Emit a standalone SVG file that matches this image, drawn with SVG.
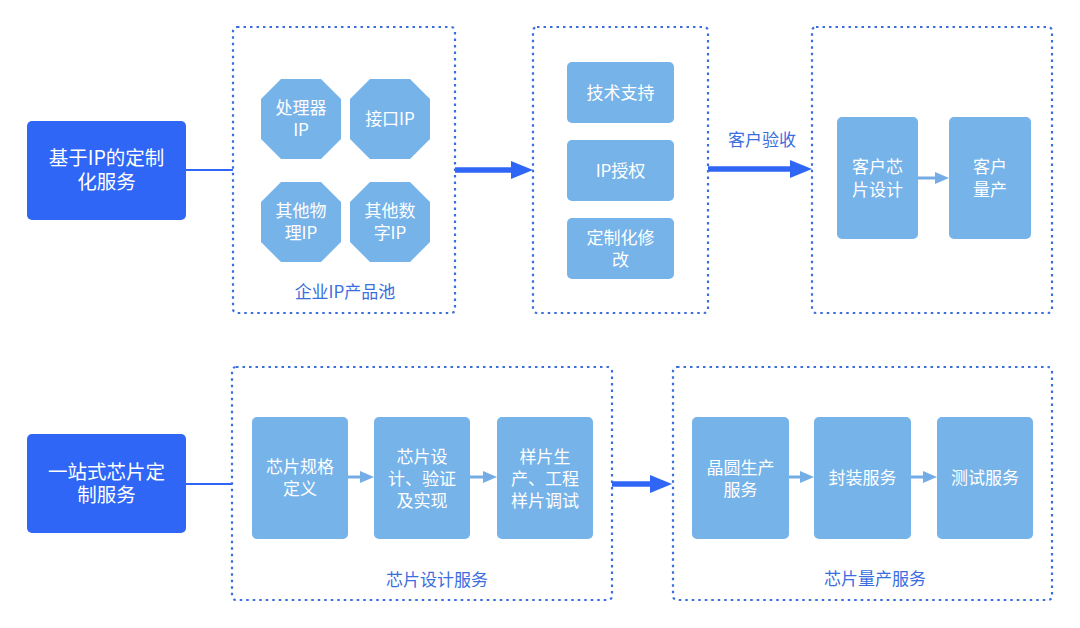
<svg xmlns="http://www.w3.org/2000/svg" width="1080" height="628" viewBox="0 0 1080 628">
<defs>
<style>
text{font-family:"Noto Sans CJK SC","Noto Sans",sans-serif;text-anchor:middle}
.main{fill:#2f66f6}
.mt{fill:#ffffff;font-size:19.5px}
.lb{fill:#76b3e9}
.bt{fill:#ffffff;font-size:17px}
.grp{fill:none;stroke:#3a6ede;stroke-width:2.2;stroke-dasharray:2.5 4;stroke-linecap:butt}
.gl{fill:#3a6ede;font-size:17px}
.thin{stroke:#2f66f6;stroke-width:2;fill:none}
.thick{stroke:#2f66f6;stroke-width:5.5;fill:none}
.small{stroke:#74ade6;stroke-width:3;fill:none}
</style>
<marker id="ah" markerUnits="userSpaceOnUse" markerWidth="22" markerHeight="18" refX="9" refY="9" orient="auto">
<path d="M0,0 L22,9 L0,18 z" fill="#2f66f6"/>
</marker>
<marker id="as" markerUnits="userSpaceOnUse" markerWidth="14" markerHeight="12" refX="2" refY="6" orient="auto">
<path d="M0,0 L14,6 L0,12 z" fill="#74ade6"/>
</marker>
</defs>
<rect width="1080" height="628" fill="#ffffff"/>

<g id="connectors">
<path class="thin" d="M186,170 H233"/>
<path class="thin" d="M186,484 H232"/>
<path class="thick" d="M455,170 H520" marker-end="url(#ah)"/>
<path class="thick" d="M708,169 H799" marker-end="url(#ah)"/>
<path class="thick" d="M612,484 H659" marker-end="url(#ah)"/>
<path class="small" d="M918,178 H937" marker-end="url(#as)"/>
<path class="small" d="M348,477 H362" marker-end="url(#as)"/>
<path class="small" d="M470,477 H485" marker-end="url(#as)"/>
<path class="small" d="M789,477 H802" marker-end="url(#as)"/>
<path class="small" d="M911,477 H925" marker-end="url(#as)"/>
</g>

<g id="group-ip-pool">
<rect class="grp" x="233" y="27" width="222" height="286" rx="4"/>
<text class="gl" x="345" y="298">企业IP产品池</text>
</g>
<g id="group-services">
<rect class="grp" x="533" y="27" width="175" height="286" rx="4"/>
</g>
<g id="group-customer">
<rect class="grp" x="812" y="27" width="240" height="286" rx="4"/>
</g>
<g id="group-design">
<rect class="grp" x="232" y="367" width="380" height="233" rx="4"/>
<text class="gl" x="437" y="586">芯片设计服务</text>
</g>
<g id="group-mass">
<rect class="grp" x="673" y="367" width="379" height="233" rx="4"/>
<text class="gl" x="875" y="585">芯片量产服务</text>
</g>

<g id="node-ip-custom">
<rect class="main" x="27" y="121" width="159" height="99" rx="5"/>
<text class="mt" x="106.5" y="165">基于IP的定制</text>
<text class="mt" x="106.5" y="189">化服务</text>
</g>
<g id="node-onestop">
<rect class="main" x="27" y="434" width="159" height="99" rx="5"/>
<text class="mt" x="106.5" y="479">一站式芯片定</text>
<text class="mt" x="106.5" y="502">制服务</text>
</g>

<g id="node-processor-ip">
<polygon class="lb" points="281,79 321,79 341,99 341,139 321,159 281,159 261,139 261,99"/>
<text class="bt" x="301" y="114">处理器</text>
<text class="bt" x="301" y="136">IP</text>
</g>
<g id="node-interface-ip">
<polygon class="lb" points="370,79 410,79 430,99 430,139 410,159 370,159 350,139 350,99"/>
<text class="bt" x="390" y="125">接口IP</text>
</g>
<g id="node-physical-ip">
<polygon class="lb" points="281,182 321,182 341,202 341,242 321,262 281,262 261,242 261,202"/>
<text class="bt" x="301" y="217">其他物</text>
<text class="bt" x="301" y="239">理IP</text>
</g>
<g id="node-digital-ip">
<polygon class="lb" points="370,182 410,182 430,202 430,242 410,262 370,262 350,242 350,202"/>
<text class="bt" x="390" y="217">其他数</text>
<text class="bt" x="390" y="239">字IP</text>
</g>

<g id="node-tech-support">
<rect class="lb" x="567" y="62" width="107" height="61" rx="5"/>
<text class="bt" x="620.5" y="98.5">技术支持</text>
</g>
<g id="node-ip-license">
<rect class="lb" x="567" y="140" width="107" height="61" rx="5"/>
<text class="bt" x="620.5" y="176.5">IP授权</text>
</g>
<g id="node-custom-mod">
<rect class="lb" x="567" y="218" width="107" height="61" rx="5"/>
<text class="bt" x="620.5" y="244">定制化修</text>
<text class="bt" x="620.5" y="266">改</text>
</g>

<g id="label-acceptance">
<text class="gl" x="762" y="146">客户验收</text>
</g>

<g id="node-customer-design">
<rect class="lb" x="837" y="117" width="81" height="122" rx="5"/>
<text class="bt" x="877.5" y="173">客户芯</text>
<text class="bt" x="877.5" y="196">片设计</text>
</g>
<g id="node-customer-mass">
<rect class="lb" x="949" y="117" width="82" height="122" rx="5"/>
<text class="bt" x="990" y="173">客户</text>
<text class="bt" x="990" y="196">量产</text>
</g>

<g id="node-spec">
<rect class="lb" x="252" y="417" width="96" height="122" rx="5"/>
<text class="bt" x="300" y="473">芯片规格</text>
<text class="bt" x="300" y="495">定义</text>
</g>
<g id="node-design-verify">
<rect class="lb" x="374" y="417" width="96" height="122" rx="5"/>
<text class="bt" x="422" y="463">芯片设</text>
<text class="bt" x="422" y="485">计、验证</text>
<text class="bt" x="422" y="507">及实现</text>
</g>
<g id="node-sample">
<rect class="lb" x="497" y="417" width="96" height="122" rx="5"/>
<text class="bt" x="545" y="463">样片生</text>
<text class="bt" x="545" y="485">产、工程</text>
<text class="bt" x="545" y="507">样片调试</text>
</g>

<g id="node-wafer">
<rect class="lb" x="692" y="417" width="97" height="122" rx="5"/>
<text class="bt" x="740.5" y="474">晶圆生产</text>
<text class="bt" x="740.5" y="496">服务</text>
</g>
<g id="node-package">
<rect class="lb" x="814" y="417" width="97" height="122" rx="5"/>
<text class="bt" x="862.5" y="484">封装服务</text>
</g>
<g id="node-test">
<rect class="lb" x="937" y="417" width="96" height="122" rx="5"/>
<text class="bt" x="985" y="484">测试服务</text>
</g>
</svg>
